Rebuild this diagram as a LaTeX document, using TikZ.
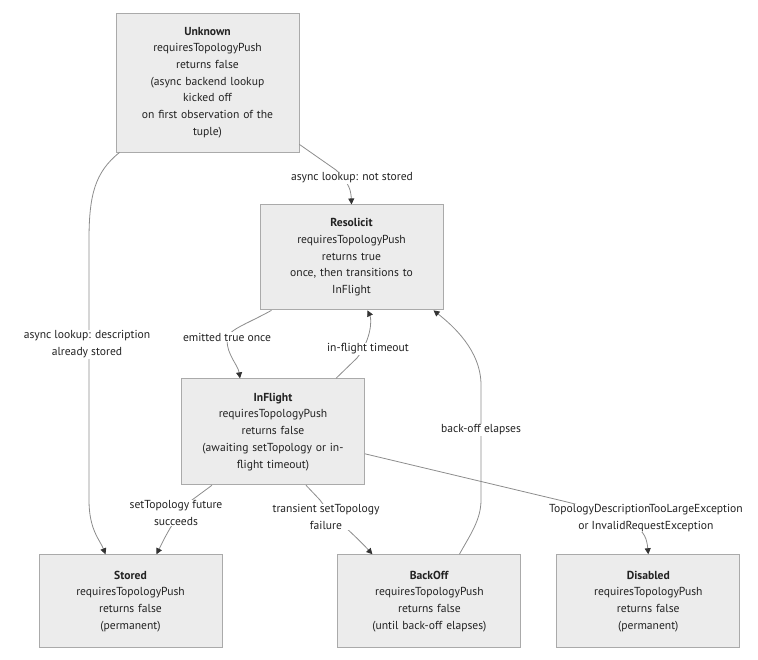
\documentclass[tikz,border=0pt]{standalone}
\usepackage{fontspec}
\setmainfont{PT Sans}
\usetikzlibrary{arrows.meta,positioning}

\definecolor{boxfill}{HTML}{ECECEC}
\definecolor{boxline}{HTML}{AAAAAA}
\definecolor{edgeline}{HTML}{8C8C8C}
\definecolor{tipcol}{HTML}{333333}
\definecolor{txt}{HTML}{222222}

\begin{document}
\begin{tikzpicture}[x=1pt, y=1pt,
  state/.style={draw=boxline, fill=boxfill, line width=0.9pt, text width=161pt,
    inner xsep=11pt, inner ysep=0pt, align=center, text=txt,
    font=\fontsize{11.6}{16.7}\selectfont},
  edge/.style={draw=edgeline, line width=0.8pt,
    -{Triangle[length=6pt,width=6pt,color=tipcol]}},
  lbl/.style={fill=white, inner sep=1pt, align=center, text=txt,
    font=\fontsize{11.6}{16.4}\selectfont}
]
  \useasboundingbox (0,0) rectangle (758,-659);

  \node[state, minimum height=139pt] at (207.5,-82.5) (unknown)
    {\textbf{Unknown}\\requiresTopologyPush\\returns false\\(async backend lookup\\kicked off\\on first observation of the\\tuple)};
  \node[state, minimum height=105pt, below=52pt of unknown, xshift=144pt] (resolicit)
    {\textbf{Resolicit}\\requiresTopologyPush\\returns true\\once, then transitions to\\InFlight};
  \node[state, minimum height=106pt, below=68pt of resolicit, xshift=-78.5pt] (inflight)
    {\textbf{InFlight}\\requiresTopologyPush\\returns false\\(awaiting setTopology or in-\\flight timeout)};
  \node[state, minimum height=93pt, below=69pt of inflight, xshift=-142.5pt] (stored)
    {\textbf{Stored}\\requiresTopologyPush\\returns false\\(permanent)};
  \node[state, minimum height=93pt, right=115pt of stored] (backoff)
    {\textbf{BackOff}\\requiresTopologyPush\\returns false\\(until back-off elapses)};
  \node[state, minimum height=93pt, right=35pt of backoff] (disabled)
    {\textbf{Disabled}\\requiresTopologyPush\\returns false\\(permanent)};

  % transitions
  \draw[edge] ([xshift=4pt]unknown.south west) .. controls (95,-172) and (89,-195) .. (89,-240)
    -- (89,-500) .. controls (89,-530) and (100,-540) .. ([xshift=-25pt]stored.north);
  \draw[edge] ([yshift=8pt]unknown.south east) -- (336,-170)
    .. controls (350,-183) and (351,-192) .. (resolicit.north);
  \draw[edge] ([xshift=-80pt]resolicit.south) .. controls (245,-325) and (227,-330) .. (227,-340)
    .. controls (227,-355) and (238,-365) .. ([xshift=-33pt]inflight.north);
  \draw[edge] ([xshift=63pt]inflight.north) -- (357,-358)
    .. controls (371,-340) and (372,-320) .. ([xshift=16pt]resolicit.south);
  \draw[edge] ([xshift=-61pt]inflight.south) -- (192,-500)
    .. controls (176,-515) and (166,-535) .. ([xshift=26pt]stored.north);
  \draw[edge] ([xshift=33pt]inflight.south) -- (320,-500)
    .. controls (330,-515) and (352,-532) .. ([xshift=-57pt]backoff.north);
  \draw[edge] ([xshift=30pt]backoff.north) .. controls (470,-535) and (481,-520) .. (481,-500)
    -- (481,-385) .. controls (481,-350) and (452,-325) .. ([xshift=82pt]resolicit.south);
  \draw[edge] ([yshift=-22pt]inflight.east) -- (563,-501)
    .. controls (640,-520) and (646,-530) .. (disabled.north);

  % edge labels
  \node[lbl] (lookupstored) at (87,-344) {async lookup: description\\already stored};
  \node[lbl] (lookupnot) at (352,-178) {async lookup: not stored};
  \node[lbl] (emitted) at (227,-337) {emitted true once};
  \node[lbl] (timeout) at (368,-349) {in-flight timeout};
  \node[lbl] (succeeds) at (176,-513) {setTopology future\\succeeds};
  \node[lbl] (transient) at (326,-517) {transient setTopology\\failure};
  \node[lbl] (elapses) at (481,-430) {back-off elapses};
  \node[lbl] (toolarge) at (646,-518) {TopologyDescriptionTooLargeException\\or InvalidRequestException};
\end{tikzpicture}
\end{document}
